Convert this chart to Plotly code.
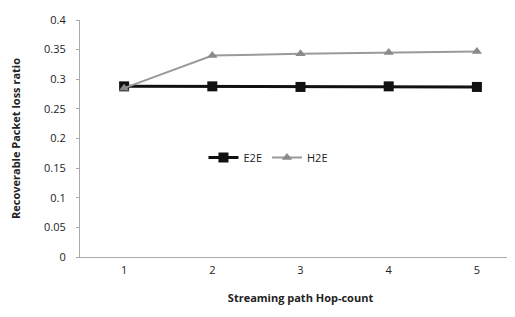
import plotly.graph_objects as go

hops = [1, 2, 3, 4, 5]
e2e = [0.288, 0.288, 0.287, 0.288, 0.287]
h2e = [0.285, 0.340, 0.343, 0.345, 0.347]
y_ticks = [0, 0.05, 0.1, 0.15, 0.2, 0.25, 0.3, 0.35, 0.4]

fig = go.Figure()
fig.add_trace(go.Scatter(x=hops, y=e2e, name="E2E", mode="lines+markers",
                         line=dict(color="#111111", width=3),
                         marker=dict(symbol="square", size=10, color="#111111")))
fig.add_trace(go.Scatter(x=hops, y=h2e, name="H2E", mode="lines+markers",
                         line=dict(color="#9a9a9a", width=2),
                         marker=dict(symbol="triangle-up", size=9, color="#8a8a8a")))

font = "Open Sans"
fig.update_layout(
    width=515, height=317,
    margin=dict(l=72, r=2, t=12, b=68),
    paper_bgcolor="white", plot_bgcolor="white",
    font=dict(family=font, size=11, color="#222222"),
    showlegend=True,
    legend=dict(orientation="h", x=0.28, y=0.42, xanchor="left", yanchor="middle",
                bgcolor="rgba(0,0,0,0)", font=dict(size=11), itemwidth=30),
    xaxis=dict(range=[0.5, 5.5], tickvals=hops, ticktext=[str(h) for h in hops],
               showgrid=False, zeroline=False, showline=True, linecolor="#aaaaaa",
               linewidth=1, ticks="", ticklabelstandoff=3,
               title=dict(text="<b>Streaming path Hop-count</b>", font=dict(size=11), standoff=18)),
    yaxis=dict(range=[0, 0.4], tickvals=y_ticks, ticktext=[str(v) for v in y_ticks],
               showgrid=False, zeroline=False, showline=True, linecolor="#aaaaaa",
               linewidth=1, ticks="outside", ticklen=3, tickcolor="#aaaaaa",
               ticklabelstandoff=8,
               title=dict(text="<b>Recoverable Packet loss ratio</b>", font=dict(size=11), standoff=22)),
)
fig.write_html("out.html")
